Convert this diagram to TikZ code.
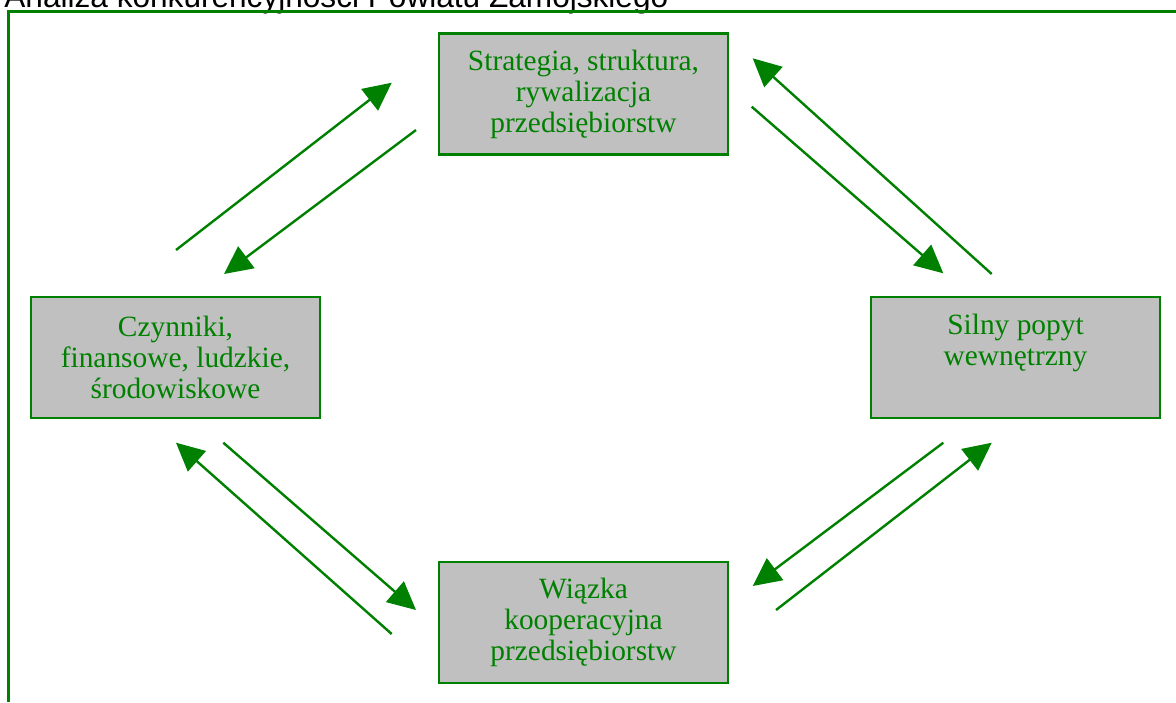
\documentclass[tikz,border=0pt]{standalone}
\usepackage{fontspec}
\setmainfont{Liberation Serif}
\newfontfamily\arialfont{Liberation Sans}
\usetikzlibrary{arrows.meta, positioning}
\definecolor{ramka}{HTML}{008000}
\definecolor{szary}{HTML}{C0C0C0}

\begin{document}
\begin{tikzpicture}[x=0.5pt, y=-0.5pt,
  box/.style={draw=ramka, line width=1.25pt, fill=szary, text=ramka, minimum width=144.5pt, minimum height=60.5pt, inner sep=0pt, align=center, font=\fontsize{14.7}{15.5}\selectfont},
  strz/.style={draw=ramka, line width=1.2pt, -{Triangle[length=14pt, width=13.5pt]}}]
\useasboundingbox (0,0) rectangle (1176,702);

\node [anchor=base west, inner sep=0pt, font=\arialfont\fontsize{15.8}{18}\selectfont] (tytul) at (4,7) {Analiza konkurencyjności Powiatu Zamojskiego};
\draw [ramka, line width=1.5pt] (8,702) -- (8,11) -- (1176,11);

\node [box] (strat) at (583.5,94) {Strategia, struktura,\\ rywalizacja\\ przedsiębiorstw};
\node [box] (czyn) at (175.5,357.5) {Czynniki,\\ finansowe, ludzkie,\\ środowiskowe};
\node [box] (popyt) at (1015.5,357.5) {Silny popyt\\ wewnętrzny\\[2pt] \mbox{}};
\node [box] (wiazka) at (583.5,622.5) {Wiązka\\ kooperacyjna\\ przedsiębiorstw};

\coordinate (a1) at (176,250);   \coordinate (a2) at (391.7,82.7);
\coordinate (b1) at (416,130);   \coordinate (b2) at (224,274);
\coordinate (c1) at (991.7,274); \coordinate (c2) at (752.7,58.3);
\coordinate (d1) at (751.7,106.7); \coordinate (d2) at (943.3,273.3);
\coordinate (e1) at (391.7,634); \coordinate (e2) at (176,442.7);
\coordinate (f1) at (223.3,442.7); \coordinate (f2) at (416,610);
\coordinate (g1) at (943.3,442.7); \coordinate (g2) at (752.7,586);
\coordinate (h1) at (776,610);   \coordinate (h2) at (991.7,442.7);

\foreach \p in {a,b,c,d,e,f,g,h}
  \draw [strz] (\p1) -- (\p2);
\end{tikzpicture}
\end{document}
